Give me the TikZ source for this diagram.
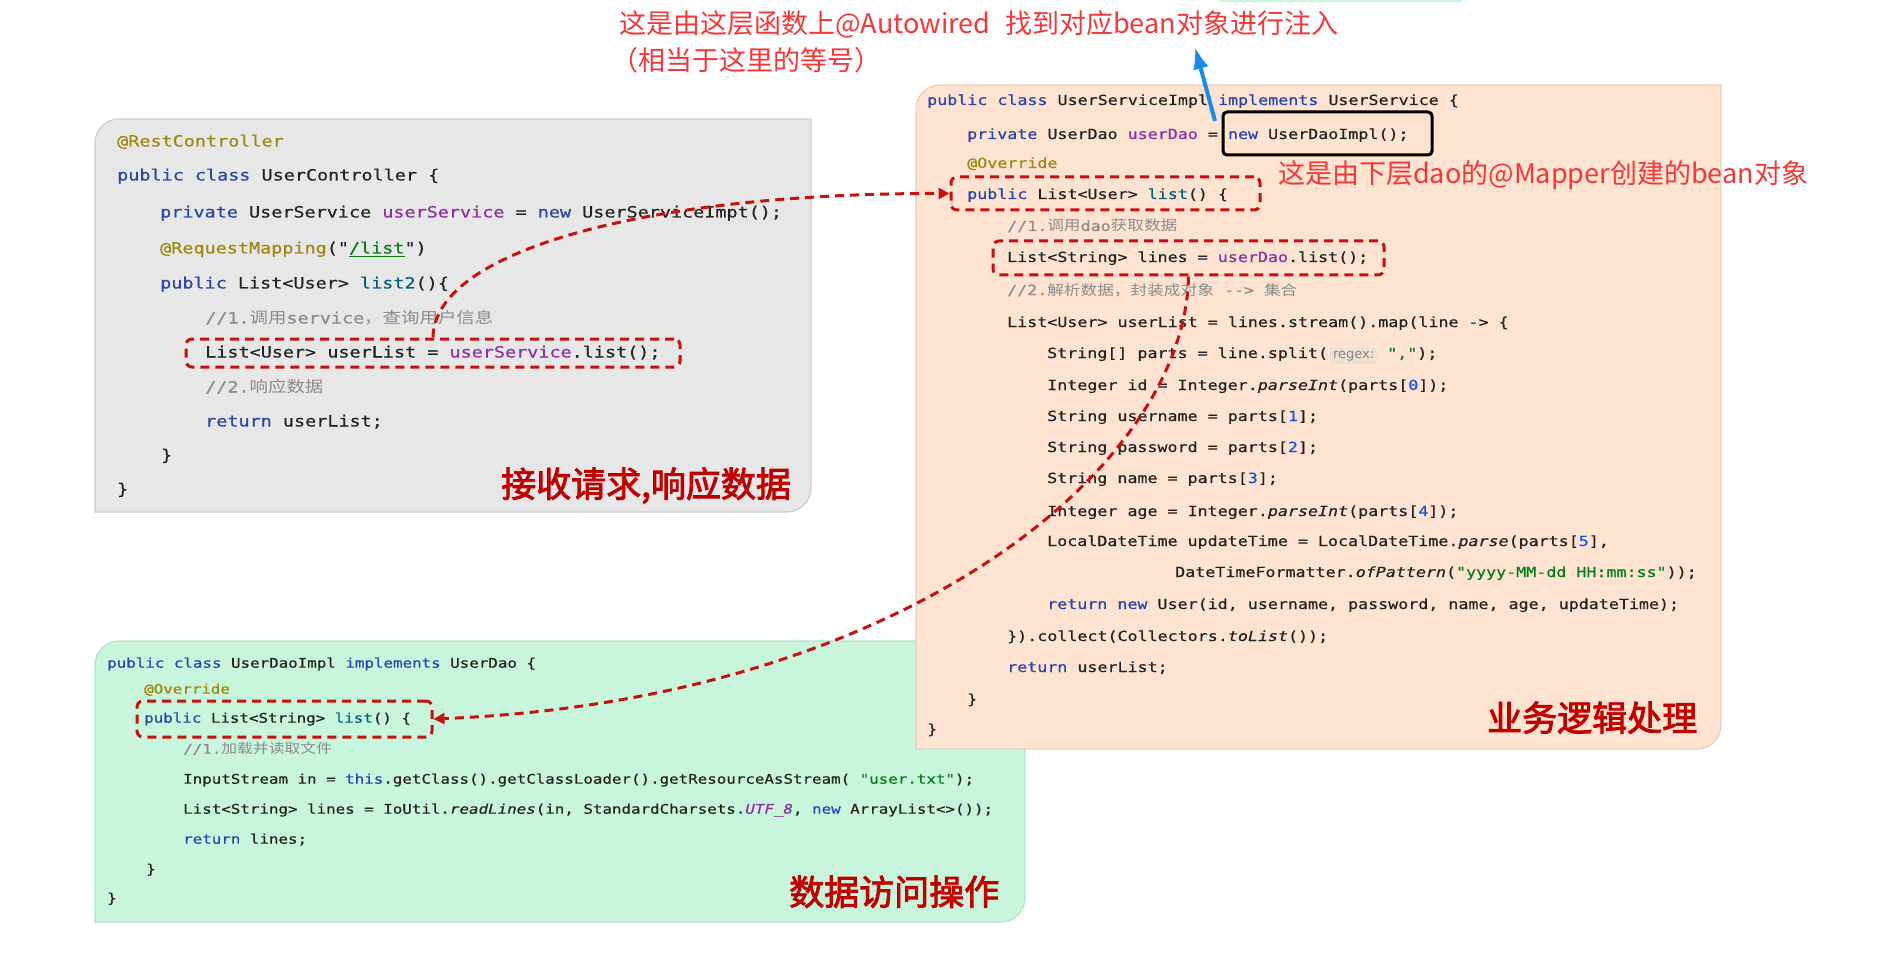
\documentclass[tikz,border=0pt]{standalone}
\usepackage{fontspec}
\usepackage{xcolor}
\usetikzlibrary{arrows.meta}
\newfontfamily\codefont[FakeStretch=1.19,FakeBold=0.5,ItalicFont={DejaVu Sans Mono Oblique}]{DejaVu Sans Mono}
\newfontfamily\zhcode[FakeStretch=1.19]{Noto Sans CJK SC}
\newfontfamily\zhfont{Noto Sans CJK SC}
\newfontfamily\zhbold[FakeBold=2.5]{Noto Sans CJK SC}
\newfontfamily\hintfont{DejaVu Sans}
\definecolor{kwc}{RGB}{40,70,170}
\definecolor{txc}{RGB}{35,35,35}
\definecolor{fldc}{RGB}{140,50,160}
\definecolor{annc}{RGB}{158,136,13}
\definecolor{strc}{RGB}{6,125,23}
\definecolor{numc}{RGB}{23,80,235}
\definecolor{mthc}{RGB}{0,98,122}
\definecolor{cmtc}{RGB}{140,140,140}
\definecolor{hintbg}{RGB}{236,224,212}
\definecolor{hintc}{RGB}{135,135,135}
\definecolor{noteRed}{RGB}{245,55,55}
\definecolor{arrowRed}{RGB}{200,16,16}
\definecolor{labelRed}{RGB}{192,0,0}
\definecolor{blueArrow}{RGB}{24,140,240}
\definecolor{grayFill}{RGB}{231,231,231}
\definecolor{grayLine}{RGB}{205,205,205}
\definecolor{orangeFill}{RGB}{253,227,208}
\definecolor{orangeLine}{RGB}{228,208,192}
\definecolor{greenFill}{RGB}{199,246,220}
\definecolor{greenLine}{RGB}{180,225,200}
\newcommand\kw[1]{\textcolor{kwc}{#1}}
\newcommand\fld[1]{\textcolor{fldc}{#1}}
\newcommand\ann[1]{\textcolor{annc}{#1}}
\newcommand\strg[1]{\textcolor{strc}{#1}}
\newcommand\cnum[1]{\textcolor{numc}{#1}}
\newcommand\mth[1]{\textcolor{mthc}{#1}}
\newcommand\itc[1]{\textit{#1}}
\newcommand\cmt[1]{\textcolor{cmtc}{#1}}
\newcommand\zh[1]{{\zhcode #1}}
\newcommand\hint[1]{\hspace{2pt}{\setlength{\fboxsep}{3pt}\colorbox{hintbg}{\hintfont\fontsize{13}{13}\selectfont\color{hintc}#1}}}
\newcommand\panelshape[6]{%
  \draw[fill=#1, draw=#2, line width=1.2pt] (#3,#6) -- (#3,{#4+24}) arc[start angle=180,end angle=270,radius=24] -- (#5,#4) -- (#5,{#6-24}) arc[start angle=0,end angle=90,radius=24] -- cycle;}
\tikzset{
  gline/.style={anchor=base west, inner sep=0pt, text=txc, font={\codefont\fontsize{15.5}{18}\selectfont}},
  oline/.style={anchor=base west, inner sep=0pt, text=txc, font={\codefont\fontsize{14}{17}\selectfont}},
  dline/.style={anchor=base west, inner sep=0pt, text=txc, font={\codefont\fontsize{13.3}{16}\selectfont}},
  dashbox/.style={draw=arrowRed, line width=3pt, dash pattern=on 9pt off 6pt, rounded corners=6pt, inner sep=0pt},
  flow/.style={draw=arrowRed, line width=3pt, dash pattern=on 9pt off 6pt, -{Triangle[length=11pt,width=11pt]}},
  note/.style={anchor=base west, inner sep=0pt, text=noteRed, font={\zhfont\fontsize{27}{30}\selectfont}},
  layer/.style={anchor=base west, inner sep=0pt, text=labelRed, font={\zhbold\fontsize{35}{38}\selectfont}},
}
\begin{document}
\begin{tikzpicture}[x=1pt,y=-1pt]
\fill[white] (0,0) rectangle (1903,968);
\useasboundingbox (0,0) rectangle (1903,968);
\fill[greenFill] (1220,0) rectangle (1463,2.5);
% panels
\panelshape{grayFill}{grayLine}{95}{119}{811}{512}
\panelshape{greenFill}{greenLine}{95}{641}{1025}{922}
\panelshape{orangeFill}{orangeLine}{916}{85}{1721}{749}
% controller code
\node[gline] (g1) at (117,146.5) {\ann{@RestController}};
\node[gline] (g2) at (117,180.5) {\kw{public class} UserController \{};
\node[gline] (g3) at (160,217.5) {\kw{private} UserService \fld{userService} = \kw{new} UserServiceImpt();};
\node[gline] (g4) at (160,253.5) {\ann{@RequestMapping}("\strg{\underline{/list}}")};
\node[gline] (g5) at (160,288.5) {\kw{public} List<User> \mth{list2}()\{};
\node[gline] (g6) at (205,323.5) {\cmt{//1.\zh{调用}service\zh{，查询用户信息}}};
\node[gline] (g7) at (205,357.5) {List<User> userList = \fld{userService}.list();};
\node[gline] (g8) at (205,392.5) {\cmt{//2.\zh{响应数据}}};
\node[gline] (g9) at (205,426.5) {\kw{return} userList;};
\node[gline] (g10) at (161,460.5) {\}};
\node[gline] (g11) at (117,494.5) {\}};
% service code
\node[oline] (o1) at (927,105) {\kw{public class} UserServiceImpl \kw{implements} UserService \{};
\node[oline] (o2) at (967,139) {\kw{private} UserDao \fld{userDao} = \kw{new} UserDaoImpl();};
\node[oline] (o3) at (967,168) {\ann{@Override}};
\node[oline] (o4) at (967,199) {\kw{public} List<User> \mth{list}() \{};
\node[oline] (o5) at (1007,231) {\cmt{//1.\zh{调用}dao\zh{获取数据}}};
\node[oline] (o6) at (1007,262) {List<String> lines = \fld{userDao}.list();};
\node[oline] (o7) at (1007,295) {\cmt{//2.\zh{解析数据，封装成对象} -\kern0pt-> \zh{集合}}};
\node[oline] (o8) at (1007,327) {List<User> userList = lines.stream().map(line -> \{};
\node[oline] (o9) at (1047,358) {String[] parts = line.split(\hint{regex:} \strg{","});};
\node[oline] (o10) at (1047,390) {Integer id = Integer.\itc{parseInt}(parts[\cnum{0}]);};
\node[oline] (o11) at (1047,421) {String username = parts[\cnum{1}];};
\node[oline] (o12) at (1047,452) {String password = parts[\cnum{2}];};
\node[oline] (o13) at (1047,483) {String name = parts[\cnum{3}];};
\node[oline] (o14) at (1047,516) {Integer age = Integer.\itc{parseInt}(parts[\cnum{4}]);};
\node[oline] (o15) at (1047,546) {LocalDateTime updateTime = LocalDateTime.\itc{parse}(parts[\cnum{5}],};
\node[oline] (o16) at (1175,577) {DateTimeFormatter.\itc{ofPattern}(\strg{"yyyy-MM-dd HH:mm:ss"}));};
\node[oline] (o17) at (1047,609) {\kw{return new} User(id, username, password, name, age, updateTime);};
\node[oline] (o18) at (1007,641) {\}).collect(Collectors.\itc{toList}());};
\node[oline] (o19) at (1007,672) {\kw{return} userList;};
\node[oline] (o20) at (967,704) {\}};
\node[oline] (o21) at (927,734) {\}};
% dao code
\node[dline] (d1) at (107,667.7) {\kw{public class} UserDaoImpl \kw{implements} UserDao \{};
\node[dline] (d2) at (144,693.7) {\ann{@Override}};
\node[dline] (d3) at (144,722.7) {\kw{public} List<String> \mth{list}() \{};
\node[dline] (d4) at (183,753.7) {\cmt{//1.\zh{加载并读取文件}}};
\node[dline] (d5) at (183,783.7) {InputStream in = \kw{this}.getClass().getClassLoader().getResourceAsStream( \strg{"user.txt"});};
\node[dline] (d6) at (183,813.7) {List<String> lines = IoUtil.\itc{readLines}(in, StandardCharsets.\itc{\fld{UTF\_8}}, \kw{new} ArrayList<>());};
\node[dline] (d7) at (183,843.7) {\kw{return} lines;};
\node[dline] (d8) at (146,873.7) {\}};
\node[dline] (d9) at (107,902.7) {\}};
% layer labels
\node[layer] (l1) at (501,497) {接收请求,响应数据};
\node[layer] (l2) at (1487,731) {业务逻辑处理};
\node[layer] (l3) at (789,905) {数据访问操作};
% highlight boxes
\node[dashbox, minimum width=494pt, minimum height=28pt] (db1) at (433,353) {};
\node[dashbox, minimum width=309pt, minimum height=33pt] (db2) at (1105.5,193.5) {};
\node[dashbox, minimum width=391pt, minimum height=34pt] (db3) at (1188.5,258) {};
\node[dashbox, minimum width=295pt, minimum height=36pt] (db4) at (284.5,719) {};
\node[draw=black, line width=3pt, rounded corners=4pt, minimum width=209pt, minimum height=43pt, inner sep=0pt] (newbox) at (1327.5,133.5) {};
% connectors
\draw[flow] (db1.north) .. controls (434,250) and (650,193) .. (db2.west);
\draw[flow] (db3.south) .. controls (1185,470) and (900,700) .. (db4.east);
% notes
\node[note] (n1) at (619,34) {这是由这层函数上@Autowired\hspace{0.55em}找到对应bean对象进行注入};
\node[note] (n2) at (611,71) {（相当于这里的等号）};
\node[note] (n3) at (1278,184) {这是由下层dao的@Mapper创建的bean对象};
\coordinate (bluetail) at (1215,121);
\coordinate (bluetip) at (1195,47);
\draw[blueArrow, line width=4pt, -{Latex[length=22pt,width=16pt]}] (bluetail) -- (bluetip);
\end{tikzpicture}
\end{document}
